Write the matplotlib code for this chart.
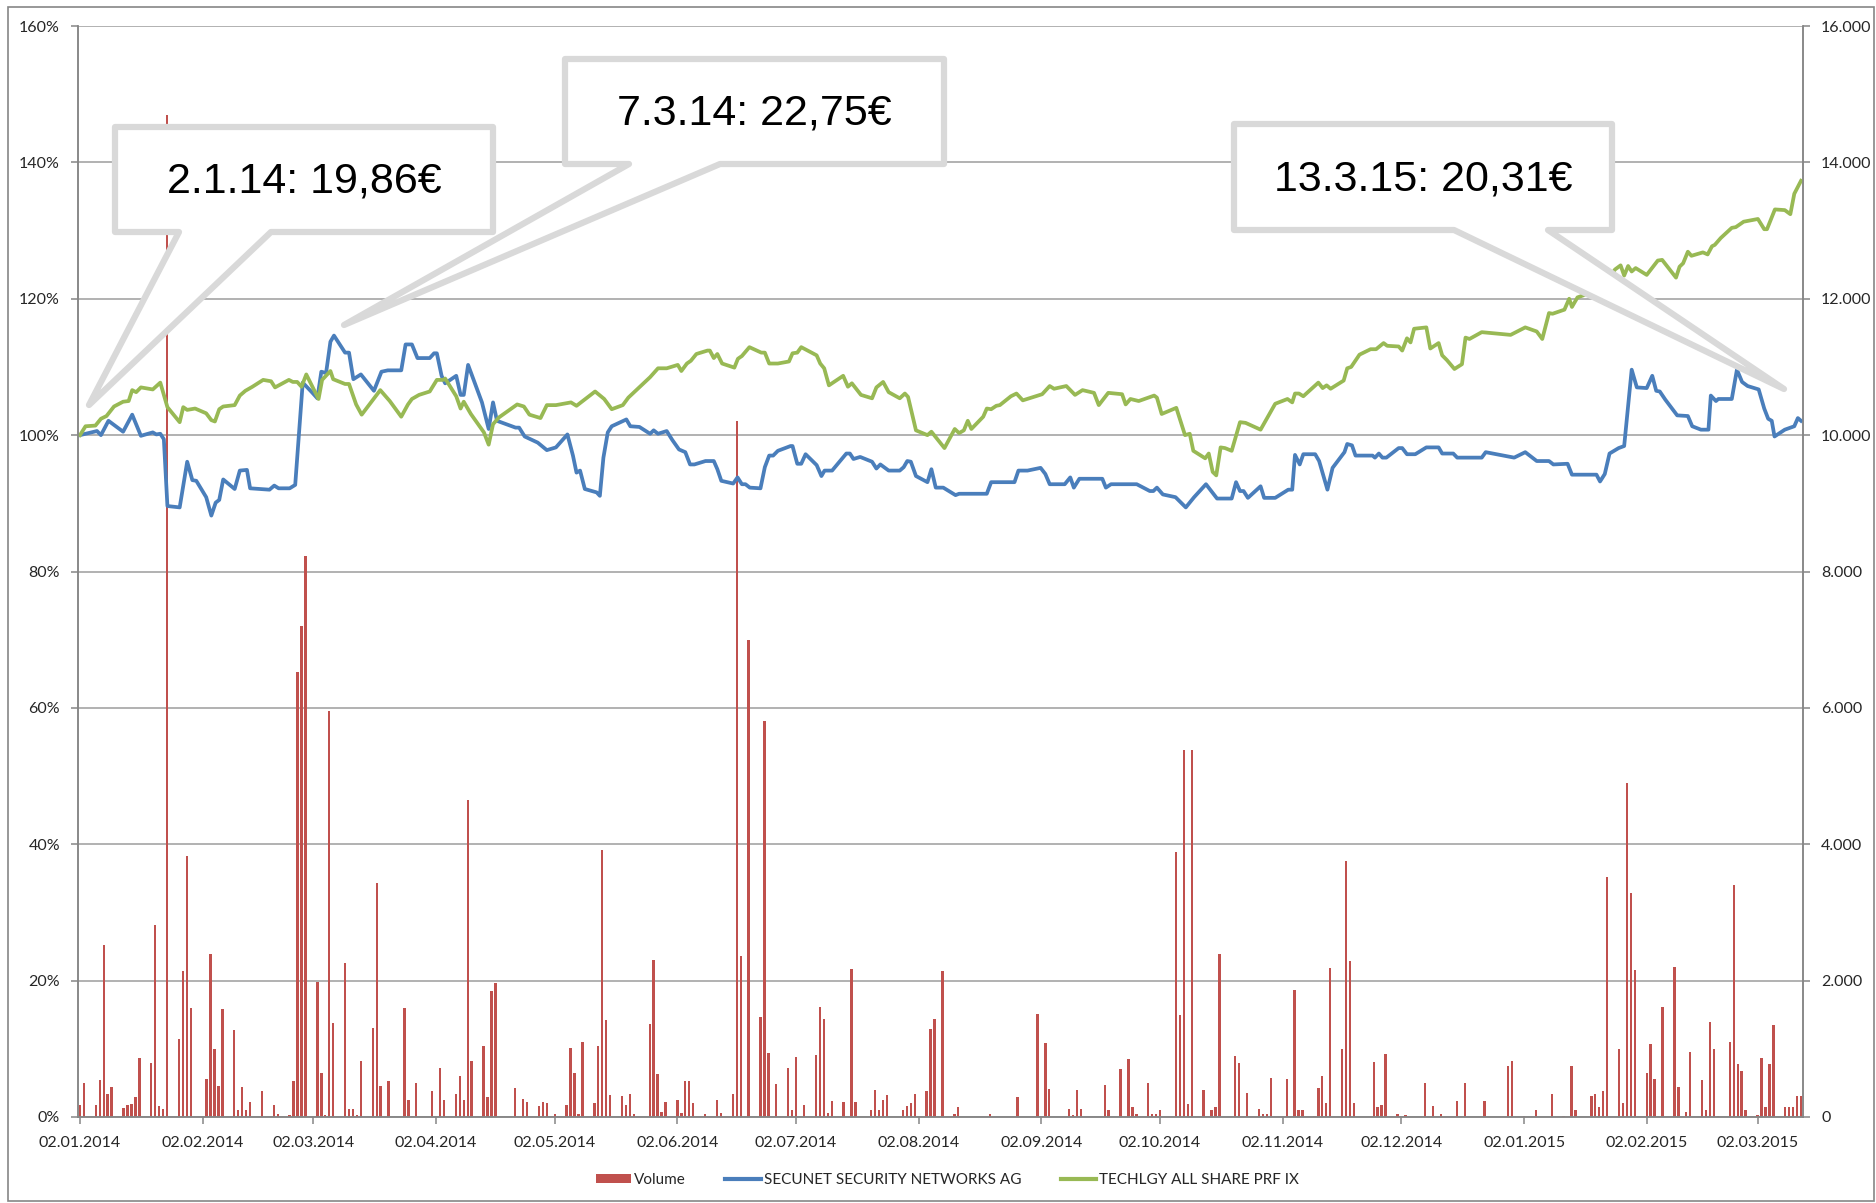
import numpy as np
import matplotlib
matplotlib.use('Agg')
import matplotlib.pyplot as plt
import matplotlib.dates as mdates
from matplotlib.patches import Polygon, Patch, Rectangle
from matplotlib.lines import Line2D
from matplotlib.ticker import MultipleLocator, FuncFormatter

# Startdatum der Reihen (Tag 0)
start = np.datetime64('2014-01-02')

# SECUNET, in % vom Startkurs (Tage seit Start)
blue_days = [0, 4.3, 5.3, 7.2, 10.9, 13.2, 14.2, 15.4, 18.4, 19.3, 20.3, 21.2, 22.1, 25.2, 27.1, 28.4, 29.4,
             31.9, 33.2, 34.3, 35.2, 36.2, 39.1, 40.4, 42.2, 43.0, 47.9, 49.1, 50.2, 53.0, 54.4, 56.3, 58.6,
             60.0, 61.0, 62.2, 63.3, 64.2, 65.2, 67.0, 68.0, 69.1, 71.0, 74.3, 76.2, 77.8, 81.2, 82.3, 83.9,
             85.3, 88.4, 89.5, 90.2, 91.4, 92.3, 95.1, 96.2, 97.0, 98.1, 101.6, 103.3, 104.4, 105.4, 110.1,
             111.0, 112.4, 115.7, 118.0, 120.3, 123.2, 124.6, 125.5, 126.4, 127.6, 130.6, 131.4, 132.3, 133.4,
             134.4, 138.1, 139.1, 141.4, 144.1, 145.0, 146.1, 148.3, 149.7, 151.4, 153.0, 154.2, 155.3, 158.1,
             160.2, 161.1, 162.1, 165.1, 166.2, 167.3, 168.2, 169.3, 172.0, 173.1, 174.2, 175.2, 176.4, 179.6,
             180.1, 181.3, 182.3, 183.4, 186.2, 187.4, 188.2, 190.1, 193.7, 194.6, 195.5, 197.2, 200.2, 201.3,
             202.3, 204.4, 207.2, 208.2, 209.1, 210.0, 211.3, 214.2, 215.2, 216.3, 218.2, 221.3, 222.2, 229.2,
             230.3, 236.2, 237.2, 239.5, 242.8, 244.0, 245.1, 248.9, 250.3, 251.2, 252.6, 258.4, 259.3, 260.6,
             267.1, 270.4, 271.3, 272.2, 273.7, 276.9, 279.5, 281.6, 284.6, 287.4, 291.1, 292.2, 293.2, 294.1,
             295.2, 298.4, 299.3, 302.1, 305.4, 306.4, 307.1, 308.3, 309.2, 312.2, 313.2, 315.3, 316.6, 319.6,
             320.3, 321.5, 322.4, 326.7, 327.3, 328.3, 329.2, 330.2, 333.3, 334.2, 335.4, 337.5, 340.3, 343.4,
             344.3, 347.1, 348.1, 354.3, 355.3, 362.5, 365.3, 368.2, 371.3, 372.4, 376.0, 377.1, 383.3, 384.2,
             385.4, 386.6, 388.9, 390.3, 392.2, 393.5, 396.0, 397.4, 398.4, 399.3, 400.7, 403.7, 406.4, 407.5,
             409.7, 411.6, 412.2, 413.5, 414.1, 417.5, 418.8, 420.1, 421.5, 424.3, 425.7, 426.7, 427.6, 428.3,
             430.9, 433.3, 434.2, 435.0]
blue_pct = [100, 100.6, 100, 102.1, 100.5, 103.0, 101.6, 99.9, 100.4, 100.1, 100.2, 99.4, 89.6, 89.4, 96.1, 93.4, 93.3,
            90.9, 88.2, 90.1, 90.5, 93.5, 92.1, 94.8, 94.9, 92.2, 92.0, 92.6, 92.2, 92.2, 92.7, 107.7, 106.3,
            105.4, 109.3, 109.1, 113.7, 114.6, 113.7, 112.1, 112.1, 108.2, 108.9, 106.5, 109.3, 109.5, 109.5, 113.3, 113.3,
            111.3, 111.3, 112.0, 112.0, 108.7, 107.6, 108.7, 105.9, 105.9, 110.3, 104.8, 100.9, 104.8, 102.1, 101.1,
            101.1, 99.8, 98.9, 97.8, 98.2, 100.1, 97.0, 94.5, 94.8, 92.1, 91.6, 91.1, 96.7, 100.4,
            101.3, 102.3, 101.3, 101.2, 100.2, 100.7, 100.2, 100.6, 99.3, 97.9, 97.5, 95.7, 95.7, 96.2,
            96.2, 95.0, 93.3, 92.9, 93.8, 92.8, 92.8, 92.3, 92.2, 95.3, 97.0, 97.0, 97.7, 98.4,
            98.4, 95.8, 95.8, 97.2, 95.6, 94.0, 94.8, 94.8, 97.3, 97.3, 96.5, 96.8, 96.1, 95.1,
            95.7, 94.8, 94.8, 95.3, 96.2, 96.1, 94.0, 93.1, 95.0, 92.3, 92.3, 91.2, 91.4, 91.4,
            93.1, 93.1, 94.8, 94.8, 95.2, 94.3, 92.8, 92.8, 93.8, 92.3, 93.6, 93.6, 92.3, 92.8,
            92.8, 91.8, 91.8, 92.3, 91.3, 90.9, 89.4, 90.9, 92.8, 90.7, 90.7, 93.1, 91.8, 91.8,
            90.8, 92.5, 90.8, 90.8, 92.0, 92.0, 97.1, 95.7, 97.2, 97.2, 96.2, 92.0, 95.2, 97.5,
            98.7, 98.5, 97.0, 97.0, 96.7, 97.3, 96.7, 96.7, 98.1, 98.1, 97.2, 97.2, 98.2, 98.2,
            97.3, 97.3, 96.7, 96.7, 97.5, 96.7, 97.5, 96.2, 96.2, 95.7, 95.8, 94.2, 94.2, 93.2,
            94.3, 97.3, 98.1, 98.4, 109.6, 107.0, 106.9, 108.7, 106.5, 106.4, 105.2, 102.9, 102.8, 101.3,
            100.8, 100.8, 105.8, 105.0, 105.3, 105.3, 109.6, 107.8, 107.2, 106.7, 103.9, 102.4, 102.1, 99.8,
            100.8, 101.3, 102.5, 102.1]

# TECHLGY ALL SHARE, in % vom Startwert
green_days = [0, 1.4, 3.9, 5.3, 6.7, 8.6, 10.9, 12.3, 13.2, 14.2, 15.4, 18.4, 20.3, 22.1, 25.2, 26.1, 27.1, 29.1,
              31.9, 33.2, 34.1, 35.2, 36.2, 39.1, 40.4, 41.8, 43.6, 46.3, 48.3, 49.3, 52.8, 53.8, 54.9, 56.0,
              57.2, 60.3, 61.2, 63.3, 64.0, 67.0, 68.0, 69.8, 71.2, 75.9, 78.3, 81.2, 82.9, 83.9, 85.7, 88.4,
              90.2, 91.8, 92.3, 95.1, 96.2, 97.0, 98.8, 102.1, 103.3, 104.4, 105.9, 110.5, 112.2, 113.6, 116.4,
              118.0, 120.3, 124.1, 125.5, 130.2, 132.5, 134.4, 137.2, 138.6, 144.1, 146.1, 148.3, 151.1, 152.0,
              153.4, 154.4, 155.8, 158.6, 159.2, 160.2, 161.1, 162.3, 165.4, 166.3, 167.3, 169.2, 172.2, 173.1,
              174.2, 176.4, 179.2, 180.1, 181.3, 182.3, 186.2, 187.1, 188.1, 189.3, 192.9, 194.1, 195.1, 197.4,
              200.2, 201.3, 203.0, 204.4, 207.2, 208.5, 209.3, 211.3, 214.2, 215.2, 218.5, 221.1, 222.2, 223.4,
              224.4, 225.3, 228.3, 229.2, 230.3, 231.6, 232.5, 235.3, 236.7, 238.3, 243.2, 245.1, 246.2, 249.3,
              251.5, 253.4, 256.3, 257.5, 259.9, 263.4, 264.3, 265.5, 267.6, 271.5, 272.2, 273.4, 277.1, 278.1,
              279.3, 280.5, 281.4, 284.4, 285.3, 286.3, 287.2, 288.3, 289.4, 291.1, 293.2, 294.6, 298.4, 302.1,
              305.2, 306.4, 307.1, 308.1, 309.2, 313.0, 314.1, 315.1, 316.1, 319.4, 320.3, 321.3, 323.4, 326.2,
              327.6, 329.5, 330.4, 333.3, 334.2, 335.4, 336.3, 337.2, 340.3, 341.3, 343.4, 344.3, 345.5, 347.4,
              349.3, 350.2, 351.2, 354.3, 361.6, 365.3, 368.2, 369.6, 371.3, 372.2, 375.2, 376.4, 377.1, 378.5,
              380.0, 381.4, 385.6, 388.0, 389.4, 390.3, 391.3, 392.2, 393.2, 396.0, 398.8, 399.9, 403.4, 404.3,
              405.2, 406.4, 407.3, 410.2, 411.4, 412.5, 413.2, 414.7, 417.5, 418.5, 420.5, 424.1, 425.7, 426.4,
              428.4, 430.9, 432.3, 433.3, 435.0]
green_pct = [100, 101.3, 101.4, 102.4, 102.8, 104.2, 104.9, 105.0, 106.6, 106.3, 107.0, 106.7, 107.7, 104.1, 101.9, 104.1, 103.7, 103.9,
             103.2, 102.2, 102.0, 103.8, 104.2, 104.4, 105.8, 106.5, 107.1, 108.1, 107.9, 107.0, 108.1, 107.8, 107.8, 107.1,
             108.9, 105.3, 108.1, 109.4, 108.2, 107.5, 107.5, 104.5, 103.0, 106.6, 105.0, 102.7, 104.5, 105.3, 105.9, 106.4,
             108.1, 108.1, 108.3, 105.7, 103.9, 104.9, 103.1, 100.4, 98.6, 101.6, 102.6, 104.5, 104.2, 103.0, 102.5,
             104.4, 104.4, 104.8, 104.3, 106.4, 105.3, 103.8, 104.4, 105.5, 108.5, 109.8, 109.8, 110.3, 109.4,
             110.5, 110.9, 111.9, 112.4, 112.4, 111.3, 111.9, 110.5, 109.9, 111.2, 111.6, 112.9, 112.1, 112.1,
             110.5, 110.5, 110.8, 112.0, 112.1, 112.9, 111.7, 110.5, 109.8, 107.3, 108.7, 107.1, 107.6, 105.9,
             105.4, 107.0, 107.8, 106.3, 105.4, 106.1, 105.6, 100.7, 100.0, 100.5, 98.1, 100.9, 100.3, 100.7,
             102.1, 100.9, 102.7, 103.9, 103.8, 104.3, 104.4, 105.7, 106.1, 105.1, 106.0, 107.2, 106.8, 107.2,
             105.9, 106.6, 106.2, 104.4, 106.2, 106.0, 104.5, 105.3, 105.0, 105.8, 105.5, 103.1, 104.0, 102.2,
             100.0, 100.2, 97.7, 96.6, 97.3, 94.6, 94.1, 98.2, 98.1, 97.7, 101.9, 101.8, 100.8, 104.6,
             105.3, 104.8, 106.1, 106.1, 105.7, 107.7, 106.9, 107.3, 106.8, 108.0, 109.8, 110.0, 111.8, 112.6,
             112.6, 113.5, 113.1, 113.0, 112.4, 114.2, 113.6, 115.6, 115.8, 112.7, 113.5, 111.7, 111.0, 109.7,
             110.4, 114.3, 114.1, 115.1, 114.7, 115.8, 115.2, 114.1, 117.9, 117.8, 118.4, 120.0, 118.8, 120.2,
             120.5, 120.9, 122.4, 124.3, 124.9, 123.4, 124.8, 124.0, 124.5, 123.5, 125.6, 125.7, 123.1, 124.7,
             125.2, 126.9, 126.3, 126.8, 126.5, 127.7, 127.9, 128.9, 130.4, 130.5, 131.3, 131.7, 130.2, 130.2,
             133.1, 133.0, 132.4, 135.4, 137.3]

# Volumen (Stück) je Handelstag
vol_days = [0, 1, 4, 5, 6, 7, 8, 11, 12, 13, 14, 15, 18, 19, 20, 21, 22, 25, 26, 27, 28,
            32, 33, 34, 35, 36, 39, 40, 41, 42, 43, 46, 49, 50, 53, 54, 55, 56, 57,
            60, 61, 62, 63, 64, 67, 68, 69, 70, 71, 74, 75, 76, 78,
            82, 83, 84, 85, 89, 91, 92, 95, 96, 97, 98, 99,
            102, 103, 104, 105, 110, 112, 113, 116, 117, 118, 120,
            123, 124, 125, 126, 127, 130, 131, 132, 133, 134, 137, 138, 139, 140,
            144, 145, 146, 147, 148, 151, 152, 153, 154, 155, 158,
            161, 162, 165, 166, 167, 169, 172, 173, 174, 176, 179, 180,
            181, 183, 186, 187, 188, 189, 190, 193, 195, 196,
            200, 201, 202, 203, 204, 208, 209, 210, 211, 214, 215, 216, 218,
            221, 222, 230, 237, 242, 244, 245, 250, 251, 252, 253, 259, 260,
            263, 265, 266, 267, 270, 271, 272, 273, 277, 278, 279, 280,
            281, 284, 286, 287, 288, 292, 293, 295, 298, 299, 300,
            301, 305, 307, 308, 309, 312, 313, 314, 315, 316, 319, 320,
            321, 322, 327, 328, 329, 330, 333, 335, 340,
            342, 344, 348, 350, 355, 361, 362, 365, 368,
            372, 375, 377, 378, 382, 383, 384, 385, 386, 389, 390,
            391, 392, 393, 396, 397, 398, 400,
            403, 404, 406, 407, 410, 411, 412, 413, 414, 417, 418, 419, 420,
            421, 424, 425, 426, 427, 428, 431, 432, 433, 434, 435]
vol_values = [171, 504, 181, 548, 2528, 333, 445, 127, 171, 196, 293, 866, 797, 2822, 156, 122, 14700, 1149, 2147, 3829, 1604,
              562, 2396, 993, 450, 1584, 1276, 103, 435, 103, 220, 386, 181, 39, 24, 528, 6530, 7200, 8230,
              1985, 645, 24, 5954, 1379, 2254, 112, 112, 24, 826, 1301, 3438, 450, 528,
              1599, 245, 10, 504, 386, 724, 245, 337, 597, 245, 4650, 817,
              1046, 289, 1848, 1961, 425, 269, 220, 156, 220, 210, 39,
              171, 1017, 645, 49, 1105, 210, 1037, 3912, 1418, 328, 313, 171, 342, 39,
              1369, 2308, 631, 73, 220, 245, 59, 523, 523, 210, 39,
              245, 59, 342, 10210, 2357, 7000, 1467, 5807, 939, 489, 719, 98,
              875, 171, 914, 1614, 1443, 64, 230, 220, 2176, 220,
              98, 401, 98, 254, 328, 98, 156, 210, 342, 381, 1296, 1443, 2147,
              49, 147, 49, 293, 1516, 1090, 411, 122, 24, 401, 122, 465, 98,
              709, 846, 147, 49, 499, 49, 49, 98, 3888, 1501, 5386, 196,
              5386, 401, 98, 147, 2396, 895, 797, 357, 122, 49, 49,
              572, 562, 1868, 98, 98, 10, 425, 601, 205, 2186, 993, 3756,
              2289, 210, 807, 147, 181, 924, 49, 24, 499,
              161, 49, 235, 499, 235, 743, 817, 10, 98,
              333, 10, 743, 98, 308, 333, 147, 381, 3521, 1002, 210,
              4895, 3291, 2161, 650, 1066, 562, 1614,
              2201, 435, 73, 949, 548, 108, 1399, 1002, 10, 1100, 3408, 782, 670,
              98, 24, 870, 147, 773, 1350, 147, 147, 147, 308, 308]

# Callouts: Text, Kasten (x0, y0, x1, y1), Spitzenbasis (xa, xb), Spitze (x, y) in Pixeln
callouts = [
    ('2.1.14: 19,86€', (115, 127, 493, 232), (179, 271), (89, 405)),
    ('7.3.14: 22,75€', (565, 59, 944, 164), (629, 720), (344, 325)),
    ('13.3.15: 20,31€', (1234, 124, 1612, 230), (1454, 1548), (1784, 389)),
]

W, H = 1876, 1203
BLUE = '#4A7EBB'
GREEN = '#98B954'
RED = '#C0504D'
GRID = '#9C9C9C'
AXIS = '#868686'
TXT = '#262626'

plt.rcParams['font.family'] = ['Lato', 'DejaVu Sans']


def to_num(days):
    return mdates.date2num(start) + np.asarray(days, dtype=float)


def px(x, y):
    return x / W, 1 - y / H


fig = plt.figure(figsize=(W / 100, H / 100), dpi=100)
ax_vol = fig.add_axes([78 / W, 1 - 1117 / H, 1725 / W, 1091 / H])
ax_vol.bar(to_num(vol_days), vol_values, width=0.6, color=RED, linewidth=0, zorder=2)
ax_vol.set_ylim(0, 16000)
ax_vol.grid(axis='y', color=GRID, linewidth=1.1, zorder=0)
ax_vol.set_axisbelow(True)

ax_pct = ax_vol.twinx()
ax_pct.plot(to_num(blue_days), blue_pct, color=BLUE, linewidth=2.7, solid_joinstyle='round')
ax_pct.plot(to_num(green_days), green_pct, color=GREEN, linewidth=2.7, solid_joinstyle='round')
ax_pct.set_ylim(0, 160)

# Volumen-Achse rechts, Prozent-Achse links (nach twinx setzen)
ax_vol.yaxis.tick_right()
ax_vol.yaxis.set_label_position('right')
ax_vol.yaxis.set_major_locator(MultipleLocator(2000))
ax_vol.yaxis.set_major_formatter(FuncFormatter(lambda v, p: '0' if v == 0 else f'{int(v):,}'.replace(',', '.')))
ax_pct.yaxis.tick_left()
ax_pct.yaxis.set_label_position('left')
ax_pct.yaxis.set_major_locator(MultipleLocator(20))
ax_pct.yaxis.set_major_formatter(FuncFormatter(lambda v, p: f'{int(v)}%'))

ax_vol.set_xlim(to_num(-0.5), to_num(435.5))
ax_vol.xaxis.set_major_locator(mdates.DayLocator(bymonthday=2))
ax_vol.xaxis.set_major_formatter(mdates.DateFormatter('%d.%m.%Y'))

for a in (ax_vol, ax_pct):
    a.spines['top'].set_visible(False)
    for s in ('left', 'right', 'bottom'):
        a.spines[s].set_color(AXIS)
        a.spines[s].set_linewidth(1.1)
    a.tick_params(axis='both', colors=AXIS, labelcolor=TXT, labelsize=11.5, length=5, width=1.1)
ax_vol.tick_params(axis='x', pad=9)
ax_vol.tick_params(axis='y', pad=8)
ax_pct.tick_params(axis='y', pad=8)

# Callouts zeichnen
for text, (x0, y0, x1, y1), (xa, xb), (tx, ty) in callouts:
    pts = [(x0, y0), (x1, y0), (x1, y1), (xb, y1), (tx, ty), (xa, y1), (x0, y1)]
    poly = Polygon([px(x, y) for x, y in pts], closed=True, transform=fig.transFigure,
                   facecolor='white', edgecolor='#D9D9D9', linewidth=4.5, joinstyle='round', zorder=10)
    fig.add_artist(poly)
    fig.text(*px((x0 + x1) / 2, y0 + 66), text, ha='center', va='baseline', fontsize=31,
             family=['Liberation Sans', 'DejaVu Sans'], color='black', zorder=11)

# Legende
handles = [Patch(facecolor=RED, edgecolor='none'),
           Line2D([], [], color=BLUE, linewidth=3),
           Line2D([], [], color=GREEN, linewidth=3)]
labels = ['Volume', 'SECUNET SECURITY NETWORKS AG', 'TECHLGY ALL SHARE PRF IX']
leg = fig.legend(handles, labels, loc='center', bbox_to_anchor=(0.505, 1 - 1180 / H), ncol=3, frameon=False,
                 fontsize=11, handlelength=2.3, handleheight=0.6, columnspacing=2.6, handletextpad=0.2)
for t in leg.get_texts():
    t.set_color(TXT)

# Rahmen um das Diagramm
fig.add_artist(Rectangle(px(8, 1201), (1866) / W, 1194 / H, transform=fig.transFigure,
                         fill=False, edgecolor=AXIS, linewidth=1.2))

fig.savefig('out.png', dpi=100)
